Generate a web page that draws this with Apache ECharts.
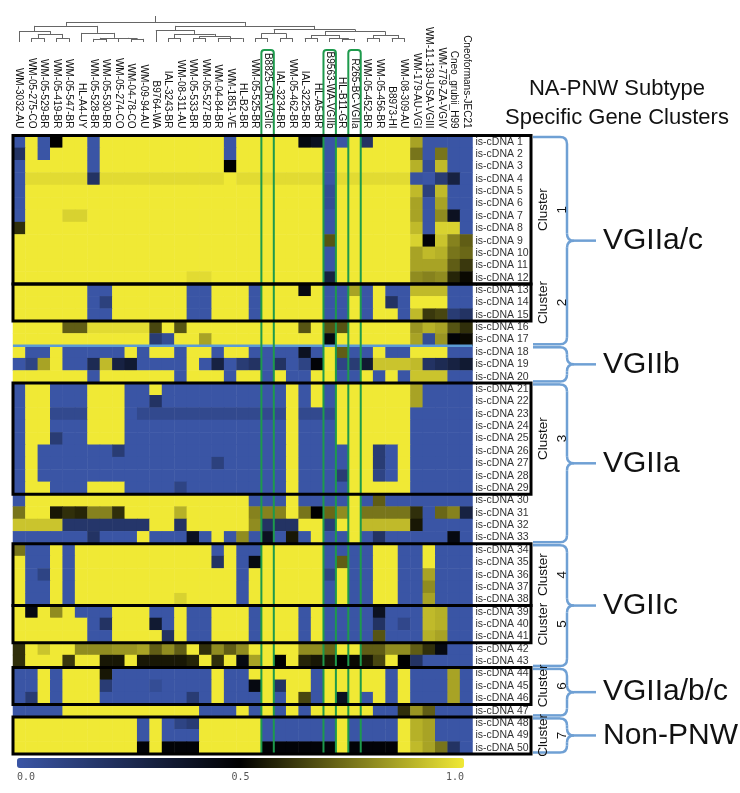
<!DOCTYPE html>
<html>
<head>
<meta charset="utf-8">
<script src="https://cdn.jsdelivr.net/npm/echarts@6/dist/echarts.min.js"></script>
<style>
html, body { margin: 0; padding: 0; background: #fff; }
#main { width: 740px; height: 793px; }
</style>
</head>
<body>
<div id="main"></div>
<script>
// strains (columns), left to right
const strains = ['WM-3032-AU', 'WM-05-275-CO', 'WM-05-529-BR', 'WM-05-419-BR', 'WM-05-547-BR', 'HL-A4-UY',
  'WM-05-528-BR', 'WM-05-530-BR', 'WM-05-274-CO', 'WM-04-78-CO', 'WM-09-94-AU', 'B9764-WA', 'IAL-3243-BR',
  'WM-08-311-AU', 'WM-05-533-BR', 'WM-05-527-BR', 'WM-04-84-BR', 'WM-1851-VE', 'HL-B2-BR', 'WM-05-525-BR',
  'B8825-OR-VGIIc', 'IAL-3234-BR', 'WM-05-462-BR', 'IAL-3225-BR', 'HL-A5-BR', 'B9563-WA-VGIIb', 'HL-B11-GR',
  'R265-BC-VGIIa', 'WM-05-452-BR', 'WM-05-456-BR', 'B8973-HI', 'WM-08-309-AU', 'WM-179-AU-VGI',
  'WM-11-139-USA-VGIII', 'WM-779-ZA-VGIV', 'Cneo_grubii_H99', 'Cneoformans-JEC21']

// genes (rows), top to bottom
const genes = ['is-cDNA 1', 'is-cDNA 2', 'is-cDNA 3', 'is-cDNA 4', 'is-cDNA 5', 'is-cDNA 6', 'is-cDNA 7',
  'is-cDNA 8', 'is-cDNA 9', 'is-cDNA 10', 'is-cDNA 11', 'is-cDNA 12', 'is-cDNA 13', 'is-cDNA 14', 'is-cDNA 15',
  'is-cDNA 16', 'is-cDNA 17', 'is-cDNA 18', 'is-cDNA 19', 'is-cDNA 20', 'is-cDNA 21', 'is-cDNA 22', 'is-cDNA 23',
  'is-cDNA 24', 'is-cDNA 25', 'is-cDNA 26', 'is-cDNA 27', 'is-cDNA 28', 'is-cDNA 29', 'is-cDNA 30', 'is-cDNA 31',
  'is-cDNA 32', 'is-cDNA 33', 'is-cDNA 34', 'is-cDNA 35', 'is-cDNA 36', 'is-cDNA 37', 'is-cDNA 38', 'is-cDNA 39',
  'is-cDNA 40', 'is-cDNA 41', 'is-cDNA 42', 'is-cDNA 43', 'is-cDNA 44', 'is-cDNA 45', 'is-cDNA 46', 'is-cDNA 47',
  'is-cDNA 48', 'is-cDNA 49', 'is-cDNA 50']

// rows 1-12
const block1 = [
  [0,1,0,0.5,1,1,0,1,1,1, 1,1,1,1,1,1,1,0,1,1, 1,1,1,0.45,0.4,0,0,1,0.2,1, 1,1,0.85,0,0,0,0],
  [0.2,1,0,1,1,1,0,1,1,1, 1,1,1,1,1,1,1,0,1,1, 1,1,1,1,1,0,1,1,1,1, 1,1,0.75,0,0.75,0,0],
  [0,1,1,1,1,1,0,1,1,1, 1,1,1,1,1,1,1,0.5,1,1, 1,1,1,1,1,0,1,1,1,1, 1,1,0.88,0.05,0.9,0,0],
  [0,0.97,0.97,0.97,0.97,0.97,0.2,0.97,0.97,0.97, 0.97,0.97,0.97,0.97,0.97,0.97,0.97,1,0.97,0.97, 0.97,0.97,0.97,0.97,0.97,0,0.97,0.97,0.97,0.97, 0.97,0.97,0.02,0,0.15,0.3,0],
  [0,1,1,1,1,1,1,1,1,1, 1,1,1,1,1,1,1,1,1,1, 1,1,1,1,1,0.05,1,1,1,1, 1,1,0.9,0.12,0.9,0,0],
  [0,1,1,1,1,1,1,1,1,1, 1,1,1,1,1,1,1,1,1,1, 1,1,1,1,1,0.05,1,1,1,1, 1,1,0.85,0,0.85,0,0],
  [0,1,1,1,0.95,0.95,1,1,1,1, 1,1,1,1,1,1,1,1,1,1, 1,1,1,1,1,0,1,1,1,1, 1,1,0.85,0,0.8,0.4,0],
  [0.6,1,1,1,1,1,1,1,1,1, 1,1,1,1,1,1,1,1,1,1, 1,1,1,1,1,0,1,1,1,1, 1,1,0.9,0,0.95,0.95,0],
  [1,1,1,1,1,1,1,1,1,1, 1,1,1,1,1,1,1,1,1,1, 1,1,1,1,1,0.68,1,1,1,1, 1,1,0.95,0.48,0.92,0.78,0.7],
  [1,1,1,1,1,1,1,1,1,1, 1,1,1,1,1,1,1,1,1,1, 1,1,1,1,1,0,1,1,1,1, 1,1,0.85,0.9,0.88,0.75,0.72],
  [1,1,1,1,1,1,1,1,1,1, 1,1,1,1,1,1,1,1,1,1, 1,1,1,1,1,0,1,1,1,1, 1,1,0.85,0.85,0.85,0.7,0.62],
  [1,1,1,1,1,1,1,1,1,1, 1,1,1,1,0.97,0.97,1,1,1,1, 1,1,1,1,1,0.3,1,1,1,1, 1,1,0.8,0.78,0.8,0.58,0.52]
]
// rows 13-17
const block2 = [
  [1,1,1,1,1,1,0,0,1,1, 1,1,1,1,0,0,1,1,1,0, 1,1,1,0.45,1,0,0,0.85,0,1, 0,0,0.9,0.9,0.9,0,0],
  [1,1,1,1,1,1,0,0.12,1,1, 1,1,1,1,0,0,1,1,1,0, 1,1,1,1,1,0,0,1,0,1, 0.2,0,1,1,1,0,0],
  [1,1,1,1,1,1,0,0,1,1, 1,1,1,1,0,0,1,1,1,0, 1,1,1,1,1,0,0,1,0,1, 1,0,0.9,0.62,0.65,0.15,0.2],
  [1,1,1,1,0.7,0.7,0.97,0.97,0.97,0.97, 0.97,0.65,1,0.68,1,1,1,1,1,1, 1,1,1,0.68,1,0.68,0.68,1,1,1, 1,1,0.82,0.88,0.85,0.68,0.6],
  [1,1,1,1,1,1,1,1,1,1, 1,0.15,0.05,1,1,0.85,1,1,1,1, 1,1,1,1,1,0.45,1,1,1,1, 1,1,0.85,0.05,0.82,0.48,0.52]
]
// rows 18-20
const block3 = [
  [1,0,0,1,0,0,0,0,0,1, 0,1,1,0,1,1,0,1,1,0, 0,0,0,0.4,0,1,0.7,0,0,1, 0,0,1,1,1,0,0],
  [0,0.1,0.85,1,0,0,0.25,0.9,0.3,0.35, 0,0,0,0,1,0,0.3,0,0.15,0.2, 0,0.2,0,0.1,0.48,1,0.1,0.15,0.35,0.92, 0.92,0.92,0.9,0.2,0.25,0.3,0.35],
  [1,1,1,1,1,1,0,1,1,1, 1,1,1,0,1,1,1,0,1,1, 0,1,0,0,1,1,0,0,1,0, 1,0,0.92,0.92,0.92,0,0]
]
// rows 21-33
const block4 = [
  [0,1,1,0,0,0,1,1,1,0, 0,1,0,0,0,0,0,0,0,0, 0,0,1,0,1,0,1,1,1,1, 1,1,0.85,0,0,0,0],
  [0,1,1,0,0,0,1,1,1,0, 0,0.2,0,0,0,0,0,0,0,0, 0,0,1,0,1,0,1,1,1,1, 1,1,0.85,0,0,0,0],
  [0,1,1,0.07,0.07,0.07,1,1,1,0, 0.07,0.07,0.07,0.07,0.07,0.07,0.07,0.07,0.07,0.07, 0.07,0.07,1,0.07,0.07,0.07,1,1,1,1, 1,1,0,0,0,0,0],
  [0,1,1,0,0,0,1,1,1,0, 0,0,0,0,0,0,0,0,0,0, 0,0,1,0,0,0,1,1,1,1, 1,1,0,0,0,0,0],
  [0,1,1,0.15,0,0,1,1,1,0, 0,0,0,0,0,0,0,0,0,0, 0,0,1,0,0,0,1,1,1,1, 1,1,0,0,0,0,0],
  [0,1,0,0,0,0,0,0,0.15,0, 0,0,0,0,0,0,0,0,0,0, 0,0,1,0,0,0,0,1,1,0.15, 0,1,0,0,0,0,0],
  [0,1,0,0,0,0,0,0,0,0, 0,0,0,0,0,0,0.12,0,0,0, 0,0,1,0,0,0,0,1,1,0.15, 0,1,0,0,0,0,0],
  [0,1,0,0,0,0,0,0,0,0, 0,0,0,0,0,0,0,0,0,0, 0,0,1,0,0,0,0.15,1,1,0.1, 0,1,0,0,0,0,0],
  [0,1,1,0,0,0,1,1,1,0, 0,0,0,0.1,0,0,0,0,0,0, 0,0,1,0,0,0,0,1,1,1, 1,1,0,0,0,0,0],
  [0,1,1,1,1,1,1,1,1,1, 1,1,1,1,1,1,1,1,1,0, 0,0,1,0,0,0,0,1,0,0.7, 0,0,0,0,0,0,0],
  [0.75,1,1,0.55,0.6,0.58,0.78,0.78,0.6,1, 1,1,1,0.88,1,1,1,1,1,0.78, 0.78,0.78,1,0.75,0.5,0.72,0.8,1,0.75,0.75, 0.75,0.75,0.6,0,0.72,0.78,0.3],
  [0.92,0.92,0.92,0.92,0.18,0.18,0.18,0.18,0.18,0.18, 0.18,1,1,0.2,1,1,1,1,1,0.8, 0.2,0.2,0.2,1,1,0.15,1,1,0.9,0.9, 0.9,0.9,0.55,0,0,0,0],
  [0,0,0,0,0,0,0.2,0,0,0, 1,0,0,0,0.4,0,1,0,0.8,0, 0.4,0,0.55,0,1,0,0,1,0,0.2, 0,0,0,0,0,0.45,0]
]
// rows 34-43
const block5 = [
  [0.75,0,0,1,0,1,1,1,1,1, 1,1,1,1,1,1,0,1,0,0, 1,1,1,1,1,0,0,0,0,1, 1,0,0,1,0,0,0],
  [1,0,0,1,0,1,1,1,1,1, 1,1,1,1,1,1,0.2,1,0,0.45, 1,1,1,1,1,0,0.7,0,0,1, 1,0,0,1,0,0,0],
  [1,0,0.1,1,0,1,1,1,1,1, 1,1,1,1,1,1,1,1,0,1, 1,1,1,1,1,0.1,1,0,0,1, 1,0,0,0.85,0,0,0],
  [1,0,0,1,0,1,1,1,1,1, 1,1,1,1,1,1,1,1,0,1, 1,1,1,1,1,0,1,0,0,1, 1,0,0,0.8,0,0,0],
  [1,0,0,1,0,1,1,1,1,1, 1,1,1,0.95,1,1,1,1,0,1, 1,1,1,1,1,0,1,0,0,1, 1,0,0,0.85,0,0,0],
  [1,0.45,1,0.8,1,0,0,0,1,1, 1,0,0,1,0,0,1,1,1,0, 1,1,1,0,1,0,0,0,0,0.4, 0,0,0,0.9,0.88,0,0],
  [1,1,1,1,1,1,0,0.2,1,1, 1,0.35,0,1,0,0,1,1,1,0, 1,1,1,0,1,0,0,0,0,0.2, 0,0.08,0,0.9,0.88,0,0],
  [1,1,1,1,1,1,0,0,1,1, 1,1,0.2,1,0,0,1,1,1,0, 1,1,1,0,1,0,0,0,0,0.68, 0,0,0,0.88,0.85,0,0],
  [0.6,1,0.92,1,1,0.8,0.8,0.8,0.82,0.82, 0.85,0.7,0.8,0.7,1,0.6,0.8,0.7,0.8,1, 1,1,1,0.8,0.8,0.72,1,1,0.7,0.7, 0.8,0.8,0.7,0.6,0.45,0,0],
  [0.6,1,1,1,0.62,1,1,0.55,0.55,1, 0.55,0.55,0.55,0.55,0.58,1,0.6,1,0.45,0.85, 1,0.5,1,0.58,0.55,0.55,0.5,0.52,0.55,0.65, 1,0.5,0.2,0,0,0,0]
]
// rows 44-47
const block6 = [
  [0,0,1,0,1,1,1,0.55,0,0, 0,0,0,0,0,0,1,0,0,1, 1,1,1,1,0,1,1,1,1,1, 0,1,0,0,0,0.85,0],
  [0,0,1,0,1,1,1,0.15,0,0, 0,0.05,0,0,0,0,1,0,0,0.45, 1,0.2,1,1,0,1,1,1,1,1, 0,1,0,0,0,0.85,0],
  [0,0.15,1,0,1,1,1,0,0,0, 0,0,0,0,0.15,0,1,0,0,0, 1,0,1,0.65,0,1,0.4,1,0,1, 0,1,0,0,0,0.85,0],
  [0,0,0,0,1,1,1,1,1,1, 1,1,1,1,1,0,0,0,1,0, 1,0,1,0,1,1,1,1,1,0, 0,0.6,0.82,0.7,0,0,0]
]
// rows 48-50
const block7 = [
  [1,1,1,1,1,1,1,1,1,1, 0,1,0,0.1,0.15,1,1,1,1,1, 0,0,0,0,0,0,1,0,0,0, 0,1,0.88,0.85,0,0,0],
  [1,1,1,1,1,1,1,1,1,1, 0,1,0,0,0,1,1,1,1,1, 0,0,0,0,0,0,1,0,0,0, 0,1,0.88,0.85,0,0,0],
  [1,1,1,1,1,1,1,1,1,1, 0.48,1,0.48,0.48,0.48,1,1,1,1,1, 0.48,0.48,0.48,0.48,0.48,0.48,1,0.48,0.48,0.48, 0.48,1,0.9,0.85,0.75,0.2,0]
]

// annotations
const clusterRows = [[1, 12], [13, 15], [21, 29], [34, 38], [39, 41], [44, 46], [48, 50]]
const clusterNames = ['1', '2', '3', '4', '5', '6', '7']
const groupRows = [[1, 17], [18, 20], [21, 33], [34, 43], [44, 47], [48, 50]]
const groupNames = ['VGIIa/c', 'VGIIb', 'VGIIa', 'VGIIc', 'VGIIa/b/c', 'Non-PNW']
const highlightStrains = ['B8825-OR-VGIIc', 'B9563-WA-VGIIb', 'R265-BC-VGIIa']
const scaleTicks = [0, 0.5, 1]

// dendrogram over strains 0-31 (leaf = column index, h = merge height)
const dendro = { h: 7.7, c: [
  { h: 6.2, c: [
    { h: 4.2, c: [0, { h: 3.1, c: [{ h: 1.5, c: [1, 2] }, { h: 1.5, c: [3, 4] }] }] },
    { h: 3.5, c: [5, { h: 1.6, c: [{ h: 1.2, c: [6, 7] }, { h: 1.4, c: [8, { h: 1.2, c: [9, 10] }] }] }] }
  ] },
  { h: 6.2, c: [
    { h: 4.6, c: [11, { h: 3.1, c: [{ h: 1.5, c: [12, 13] }, { h: 2.2, c: [{ h: 1.5, c: [14, 15] }, { h: 1.5, c: [16, 17, 18] }] }] }] },
    { h: 4.8, c: [
      { h: 3.3, c: [{ h: 1.5, c: [19, 20] }, { h: 1.5, c: [21, 22] }] },
      { h: 4.0, c: [
        { h: 2.7, c: [{ h: 1.5, c: [23, 24] }, { h: 1.5, c: [25, { h: 1.2, c: [26, 27] }] }] },
        { h: 2.7, c: [{ h: 1.5, c: [28, 29] }, { h: 1.5, c: [30, 31] }] }
      ] }
    ] }
  ] }
] }

const BLUE = '#3a55a5'
const YELLOW = '#f0e935'

const allRows = block1.concat(block2, block3, block4, block5, block6, block7)
const heatData = []
allRows.forEach((row, r) => {
  row.forEach((v, c) => heatData.push([c, r, v]))
})

// dendrogram segments
const segs = []
function walk (node) {
  if (typeof node === 'number') return { x: node, h: 0 }
  const kids = node.c.map(walk)
  const xs = kids.map(k => k.x)
  kids.forEach(k => segs.push([[k.x, k.h], [k.x, node.h]]))
  segs.push([[Math.min(...xs), node.h], [Math.max(...xs), node.h]])
  return { x: (Math.min(...xs) + Math.max(...xs)) / 2, h: node.h }
}
const root = walk(dendro)
segs.push([[root.x, root.h], [root.x, 10]])

const FONT = 'Liberation Sans, Arial, Helvetica, sans-serif'

const option = {
  animation: false,
  textStyle: { fontFamily: FONT },
  grid: [
    { left: 13, top: 135.5, width: 459.5, height: 618.5 },
    { left: 13, top: 16, width: 459.5, height: 26 },
    { left: 17, top: 758, width: 447, height: 10 }
  ],
  xAxis: [
    {
      type: 'category', gridIndex: 0, data: strains, position: 'top',
      axisLine: { show: false }, axisTick: { show: false }, splitLine: { show: false },
      axisLabel: { rotate: 90, interval: 0, fontSize: 10, color: '#111', margin: 7, fontFamily: FONT }
    },
    { type: 'value', gridIndex: 1, min: -0.5, max: strains.length - 0.5, show: false },
    {
      type: 'value', gridIndex: 2, min: 0, max: 1, interval: 0.5,
      axisLine: { show: false }, axisTick: { show: false }, splitLine: { show: false },
      axisLabel: {
        fontFamily: 'DejaVu Sans Mono', fontSize: 10, color: '#555', margin: 4,
        formatter: v => scaleTicks.includes(v) ? v.toFixed(1) : '',
        alignMinLabel: 'left', alignMaxLabel: 'right'
      }
    }
  ],
  yAxis: [
    {
      type: 'category', gridIndex: 0, data: genes, inverse: true, position: 'right',
      axisLine: { show: false }, axisTick: { show: false }, splitLine: { show: false },
      axisLabel: { fontSize: 10.5, color: '#333', margin: 3, interval: 0, fontFamily: FONT }
    },
    { type: 'value', gridIndex: 1, min: 0, max: 10, show: false },
    { type: 'value', gridIndex: 2, show: false }
  ],
  visualMap: {
    type: 'continuous', min: 0, max: 1, seriesIndex: 0,
    orient: 'horizontal', left: 17, top: 758, itemWidth: 10, itemHeight: 447,
    padding: 0, calculable: false, hoverLink: false,
    inRange: { color: [BLUE, '#000000', YELLOW] }
  },
  series: [
    {
      type: 'heatmap', xAxisIndex: 0, yAxisIndex: 0, data: heatData, progressive: 0,
      itemStyle: { borderWidth: 0 }, emphasis: { disabled: true }
    },
    {
      type: 'lines', coordinateSystem: 'cartesian2d', xAxisIndex: 1, yAxisIndex: 1, silent: true,
      data: segs.map(s => ({ coords: s })),
      lineStyle: { color: '#666', width: 1, opacity: 1 }
    }
  ]
}

const chart = echarts.init(document.getElementById('main'))
chart.setOption(option)

// overlays placed through the heatmap axes
const xc = i => chart.convertToPixel({ xAxisIndex: 0 }, strains[i])
const yc = i => chart.convertToPixel({ yAxisIndex: 0 }, genes[i])
const colW = xc(1) - xc(0)
const rowH = yc(1) - yc(0)
const rowTop = r => yc(r - 1) - rowH / 2
const rowBot = r => yc(r - 1) + rowH / 2
const gridLeft = xc(0) - colW / 2
const gridRight = xc(strains.length - 1) + colW / 2
const boxRight = 531

const graphic = []

// blue separator between 17 and 18
graphic.push({
  type: 'line', z: 90,
  shape: { x1: gridLeft, y1: rowBot(17), x2: gridRight, y2: rowBot(17) },
  style: { stroke: '#5b9bd5', lineWidth: 2.5 }
})

// green strain highlights
highlightStrains.forEach(name => {
  const i = strains.indexOf(name)
  graphic.push({
    type: 'rect', z: 95,
    shape: { x: xc(i) - colW / 2, y: 50, width: colW, height: rowBot(50) - 50, r: [3, 3, 0, 0] },
    style: { fill: 'none', stroke: '#1d9a4c', lineWidth: 2 }
  })
})

// cluster boxes and labels
clusterRows.forEach(([a, b], k) => {
  graphic.push({
    type: 'rect', z: 100,
    shape: { x: gridLeft, y: rowTop(a), width: boxRight - gridLeft, height: rowBot(b) - rowTop(a) },
    style: { fill: 'none', stroke: '#000', lineWidth: 3 }
  })
  graphic.push({
    type: 'text', z: 100, x: 552.5, y: (rowTop(a) + rowBot(b)) / 2, rotation: Math.PI / 2,
    style: {
      text: 'Cluster\n' + clusterNames[k], fontSize: 13.5, lineHeight: 19, fill: '#111',
      fontFamily: FONT, align: 'center', verticalAlign: 'middle'
    }
  })
})

// braces and subtype labels
const xL = 533, xV = 567, xT = 596, rr = 7
const braceStyle = { fill: 'none', stroke: '#6fa0d4', lineWidth: 2.5 }
function seg (x1, y1, x2, y2) {
  return { type: 'line', shape: { x1, y1, x2, y2 }, style: braceStyle }
}
function curve (x1, y1, cx, cy, x2, y2) {
  return { type: 'bezierCurve', shape: { x1, y1, cpx1: cx, cpy1: cy, x2, y2 }, style: braceStyle }
}
groupRows.forEach(([a, b], k) => {
  const top = rowTop(a) + 1.5
  const bot = rowBot(b) - 1.5
  const mid = (top + bot) / 2
  graphic.push({
    type: 'group', z: 80,
    children: [
      seg(xL, top, xV - rr, top),
      curve(xV - rr, top, xV, top, xV, top + rr),
      seg(xV, top + rr, xV, mid - rr),
      curve(xV, mid - rr, xV, mid, xV + rr, mid),
      seg(xV + rr, mid, xT, mid),
      curve(xV + rr, mid, xV, mid, xV, mid + rr),
      seg(xV, mid + rr, xV, bot - rr),
      curve(xV, bot - rr, xV, bot, xV - rr, bot),
      seg(xV - rr, bot, xL, bot)
    ]
  })
  graphic.push({
    type: 'text', z: 80, x: 603, y: mid,
    style: {
      text: groupNames[k], fontSize: 30, fill: '#111', fontFamily: FONT,
      align: 'left', verticalAlign: 'middle'
    }
  })
})

// heading
graphic.push({
  type: 'text', x: 617, y: 103.5,
  style: {
    text: 'NA-PNW Subtype\nSpecific Gene Clusters', fontSize: 22, lineHeight: 29,
    fill: '#111', fontFamily: FONT, align: 'center', verticalAlign: 'middle'
  }
})

chart.setOption({ graphic: graphic })
</script>
</body>
</html>
